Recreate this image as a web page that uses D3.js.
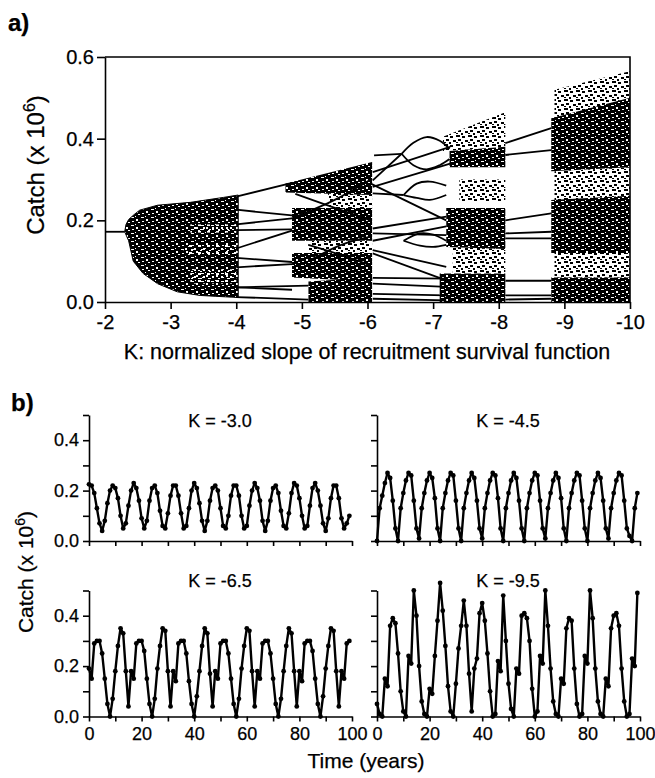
<!DOCTYPE html>
<html>
<head>
<meta charset="utf-8">
<script src="https://cdn.jsdelivr.net/npm/d3@7"></script>
<style>
body { margin: 0; background: #fff; }
text { font-family: "Liberation Sans", Arial, sans-serif; fill: #000; stroke: #000; stroke-width: 0.25px; }
.axis path, .axis line { stroke: #000; stroke-width: 1.6; }
</style>
</head>
<body>
<svg id="chart" width="655" height="778"></svg>
<script>
// ---- panel a: bifurcation diagram (K, catch in millions) ----
const kTicks = [-2, -3, -4, -5, -6, -7, -8, -9, -10];
const catchTicksA = [0, 0.2, 0.4, 0.6];

// stable equilibrium before the first bifurcation
const fixedLine = [[-2.0, 0.172], [-2.3, 0.172]];

// envelope of the first chaotic region
const onsetTop = [[-2.3, 0.172], [-2.32, 0.19], [-2.36, 0.202], [-2.45, 0.215], [-2.53, 0.225],
  [-2.8, 0.237], [-3.3, 0.244], [-3.8, 0.256], [-4.03, 0.262]];
const onsetBottom = [[-2.3, 0.172], [-2.36, 0.15], [-2.43, 0.10], [-2.58, 0.07], [-2.8, 0.045],
  [-3.1, 0.025], [-3.45, 0.016], [-4.03, 0.011]];

// lighter speckled patches inside the first chaotic region: k0, k1, low, high
const onsetGaps = [
  [-3.3, -4.0, 0.170, 0.190],
  [-3.2, -4.0, 0.115, 0.140],
  [-3.3, -4.0, 0.045, 0.080]
];

// chaotic clusters: k0, k1, low0, high0, low1, high1, dense(1)/sparse(0)
const chaosBands = [
  [-4.75, -6.07, 0.268, 0.290, 0.262, 0.343, 1],
  [-5.40, -6.07, 0.230, 0.268, 0.230, 0.262, 0],
  [-4.85, -6.07, 0.150, 0.230, 0.150, 0.230, 1],
  [-5.10, -6.07, 0.120, 0.150, 0.120, 0.150, 0],
  [-4.85, -6.07, 0.060, 0.120, 0.050, 0.120, 1],
  [-5.10, -6.07, 0.000, 0.050, 0.000, 0.060, 1],
  [-7.15, -8.10, 0.370, 0.405, 0.380, 0.465, 0],
  [-7.25, -8.10, 0.330, 0.370, 0.330, 0.380, 1],
  [-7.40, -8.10, 0.245, 0.300, 0.245, 0.300, 0],
  [-7.20, -8.10, 0.135, 0.230, 0.130, 0.230, 1],
  [-7.30, -8.10, 0.070, 0.135, 0.070, 0.130, 0],
  [-7.10, -8.10, 0.000, 0.070, 0.000, 0.070, 1],
  [-8.85, -10.0, 0.450, 0.520, 0.500, 0.565, 0],
  [-8.80, -10.0, 0.320, 0.450, 0.330, 0.500, 1],
  [-8.85, -10.0, 0.250, 0.320, 0.250, 0.330, 0],
  [-8.80, -10.0, 0.120, 0.250, 0.120, 0.260, 1],
  [-8.85, -10.0, 0.060, 0.120, 0.060, 0.120, 0],
  [-8.80, -10.0, 0.000, 0.060, 0.000, 0.060, 1]
];

// periodic branches between the chaotic windows
const branchLines = [
  // K -4 to -5
  [[-4.0, 0.258], [-4.85, 0.292]],
  [[-4.0, 0.226], [-4.85, 0.212]],
  [[-4.0, 0.190], [-4.85, 0.205]],
  [[-4.0, 0.176], [-4.85, 0.178]],
  [[-4.0, 0.131], [-4.85, 0.175]],
  [[-4.0, 0.108], [-4.85, 0.098]],
  [[-4.0, 0.085], [-4.85, 0.093]],
  [[-4.0, 0.036], [-4.85, 0.030]],
  [[-4.0, 0.036], [-5.10, 0.040]],
  [[-4.0, 0.012], [-5.10, 0.006]],
  // crossing lines inside the K -5 to -6 window
  [[-4.85, 0.205], [-5.5, 0.250], [-6.05, 0.300]],
  [[-4.9, 0.265], [-5.6, 0.225], [-6.05, 0.200]],
  [[-5.1, 0.140], [-5.6, 0.115], [-6.05, 0.090]],
  [[-5.1, 0.100], [-5.6, 0.140], [-6.05, 0.160]],
  // K -6 to -7
  [[-6.1, 0.359], [-6.52, 0.363]],
  [[-6.08, 0.298], [-6.52, 0.363]],
  [[-6.52, 0.363], [-6.7, 0.39], [-6.9, 0.404], [-7.1, 0.395], [-7.25, 0.375]],
  [[-6.52, 0.363], [-6.7, 0.335], [-6.9, 0.325], [-7.1, 0.335], [-7.25, 0.35]],
  [[-6.08, 0.318], [-7.26, 0.38]],
  [[-6.08, 0.282], [-7.26, 0.339]],
  [[-6.08, 0.266], [-6.55, 0.262]],
  [[-6.55, 0.262], [-6.75, 0.29], [-6.95, 0.295], [-7.2, 0.285]],
  [[-6.55, 0.262], [-6.75, 0.255], [-6.95, 0.25], [-7.2, 0.262]],
  [[-6.05, 0.290], [-7.2, 0.200]],
  [[-6.08, 0.180], [-7.2, 0.209]],
  [[-6.08, 0.168], [-7.2, 0.164]],
  [[-6.08, 0.150], [-7.2, 0.185]],
  [[-6.55, 0.150], [-6.8, 0.168], [-7.0, 0.165], [-7.2, 0.150]],
  [[-6.55, 0.150], [-6.8, 0.138], [-7.0, 0.135], [-7.2, 0.140]],
  [[-6.08, 0.127], [-7.2, 0.086]],
  [[-6.08, 0.119], [-7.2, 0.053]],
  [[-6.08, 0.059], [-7.2, 0.057]],
  [[-6.08, 0.045], [-7.2, 0.037]],
  [[-6.08, 0.020], [-7.2, 0.016]],
  [[-6.08, 0.008], [-7.2, 0.004]],
  // K -8 to -9
  [[-8.1, 0.389], [-8.8, 0.426]],
  [[-8.1, 0.360], [-8.8, 0.372]],
  [[-8.1, 0.200], [-8.8, 0.217]],
  [[-8.1, 0.168], [-8.8, 0.172]],
  [[-8.1, 0.156], [-8.8, 0.156]],
  [[-8.1, 0.052], [-8.8, 0.052]],
  [[-8.1, 0.016], [-8.8, 0.016]],
  [[-8.1, 0.006], [-8.8, 0.008]]
];

// ---- panel b: catch time series (x 10^6), one value per year 0..99 ----
const yearTicks = [0, 10, 20, 30, 40, 50, 60, 70, 80, 90, 100];
const catchTicksB = [0, 0.1, 0.2, 0.3, 0.4, 0.5];

const catchK30 = [
  .225, .22, .19, .13, .07, .04, .08, .15, .20, .22,
  .21, .17, .10, .05, .07, .14, .20, .23, .21, .16,
  .09, .05, .08, .16, .21, .22, .19, .12, .06, .05,
  .11, .18, .22, .22, .18, .11, .05, .06, .13, .20,
  .23, .21, .15, .08, .04, .08, .16, .21, .22, .20,
  .13, .06, .05, .10, .18, .22, .22, .18, .10, .05,
  .06, .14, .20, .23, .21, .16, .08, .04, .08, .16,
  .21, .22, .19, .12, .06, .05, .11, .19, .23, .22,
  .17, .10, .05, .06, .14, .21, .23, .20, .14, .07,
  .04, .09, .17, .22, .22, .17, .09, .05, .07, .10
];

const catchK45 = [
  .00, .13, .18, .23, .27, .25, .16, .05, .00,
  .13, .19, .24, .27, .26, .16, .05, .01,
  .13, .19, .24, .27, .25, .17, .05, .00,
  .13, .19, .24, .27, .26, .16, .05, .00,
  .13, .19, .24, .27, .25, .16, .05, .01,
  .13, .19, .24, .27, .26, .17, .05, .00,
  .13, .19, .24, .27, .25, .16, .05, .00,
  .13, .19, .24, .27, .26, .16, .05, .01,
  .13, .19, .24, .27, .25, .17, .05, .00,
  .13, .19, .24, .27, .26, .16, .05, .00,
  .13, .19, .24, .27, .25, .16, .05, .01,
  .13, .19, .24, .27, .26, .16, .05, .02, .00, .13, .19
];

const catchK65 = [
  .19, .15, .29, .30, .30, .25, .15, .05, .00, .07, .18, .28, .35, .33, .18, .04,
  .18, .15, .29, .30, .30, .26, .15, .05, .00, .07, .19, .28, .35, .34, .18, .04,
  .18, .14, .29, .30, .30, .25, .14, .05, .00, .08, .18, .28, .35, .33, .17, .04,
  .18, .15, .29, .30, .30, .25, .15, .05, .00, .07, .19, .28, .35, .34, .18, .04,
  .18, .15, .29, .30, .30, .25, .15, .05, .00, .07, .18, .28, .35, .33, .18, .04,
  .18, .14, .29, .30, .30, .26, .15, .05, .00, .08, .19, .28, .35, .34, .18, .04,
  .18, .15, .29, .30
];

const catchK95 = [
  .05, .01, .00, .15, .12, .36, .39, .37, .25, .10,
  .02, .00, .24, .21, .50, .40, .20, .06, .01, .00,
  .11, .09, .24, .38, .53, .42, .28, .12, .02, .00,
  .13, .27, .36, .46, .36, .17, .02, .19, .23, .41,
  .45, .38, .25, .10, .00, .01, .22, .18, .48, .30,
  .13, .03, .00, .19, .17, .40, .41, .39, .30, .11,
  .00, .02, .24, .21, .50, .36, .19, .06, .01, .00,
  .15, .13, .35, .39, .38, .19, .05, .00, .01, .24,
  .21, .50, .39, .19, .06, .01, .00, .15, .12, .35,
  .40, .41, .36, .19, .06, .00, .01, .23, .20, .49
];

const svg = d3.select("#chart");
const defs = svg.append("defs");

// speckle textures for the chaotic clusters
const dense = defs.append("pattern").attr("id", "dense")
  .attr("patternUnits", "userSpaceOnUse").attr("width", 10).attr("height", 8);
dense.append("rect").attr("width", 10).attr("height", 8).attr("fill", "#000");
[[1, 1, 3, 1], [6, 3, 2, 2], [2, 5, 2, 1], [8, 6, 2, 1], [5, 0, 1, 1]].forEach(r => dense.append("rect")
  .attr("x", r[0]).attr("y", r[1]).attr("width", r[2]).attr("height", r[3]).attr("fill", "#fff"));

const sparse = defs.append("pattern").attr("id", "sparse")
  .attr("patternUnits", "userSpaceOnUse").attr("width", 12).attr("height", 9);
[[0, 0, 4, 2], [6, 1, 3, 2], [2, 4, 3, 2], [9, 5, 3, 2], [5, 7, 2, 2], [0, 7, 2, 1]].forEach(r => sparse.append("rect")
  .attr("x", r[0]).attr("y", r[1]).attr("width", r[2]).attr("height", r[3]).attr("fill", "#000"));

// white flecks laid over the darker onset region
const holes = defs.append("pattern").attr("id", "holes")
  .attr("patternUnits", "userSpaceOnUse").attr("width", 9).attr("height", 7);
[[0, 0, 3, 2], [5, 3, 2, 2], [2, 5, 2, 1]].forEach(r => holes.append("rect")
  .attr("x", r[0]).attr("y", r[1]).attr("width", r[2]).attr("height", r[3]).attr("fill", "#fff"));

// ---------- panel a ----------
const xA = d3.scaleLinear().domain([-2, -10]).range([105, 630]);
const yA = d3.scaleLinear().domain([0, 0.6]).range([302, 57]);
const gA = svg.append("g");

const lineA = d3.line().x(d => xA(d[0])).y(d => yA(d[1]));
const curveA = d3.line().x(d => xA(d[0])).y(d => yA(d[1])).curve(d3.curveCatmullRom);

gA.append("path").attr("d", lineA(onsetTop.concat(onsetBottom.slice().reverse())))
  .attr("fill", "url(#dense)").attr("stroke", "#000").attr("stroke-width", 1);

gA.selectAll("rect.gap").data(onsetGaps).join("rect").attr("class", "gap")
  .attr("x", g => xA(g[0])).attr("width", g => xA(g[1]) - xA(g[0]))
  .attr("y", g => yA(g[3])).attr("height", g => yA(g[2]) - yA(g[3]))
  .attr("fill", "url(#holes)");

gA.selectAll("path.band").data(chaosBands).join("path").attr("class", "band")
  .attr("d", b => lineA([[b[0], b[2]], [b[1], b[4]], [b[1], b[5]], [b[0], b[3]]]))
  .attr("fill", b => b[6] ? "url(#dense)" : "url(#sparse)");

gA.selectAll("path.branch").data(branchLines).join("path").attr("class", "branch")
  .attr("d", d => curveA(d)).attr("fill", "none").attr("stroke", "#000").attr("stroke-width", 1.8);

gA.append("path").attr("d", lineA(fixedLine)).attr("stroke", "#000").attr("stroke-width", 1.8);

// frame
gA.append("path")
  .attr("d", `M${xA(-2)},${yA(0.6)}H${xA(-10)}V${yA(0)}`)
  .attr("fill", "none").attr("stroke", "#000").attr("stroke-width", 1.6);

gA.append("g").attr("class", "axis").attr("transform", `translate(0,${yA(0)})`)
  .call(d3.axisBottom(xA).tickValues(kTicks).tickFormat(d => String(d))
    .tickSize(7).tickSizeOuter(0).tickPadding(6))
  .selectAll("text").style("font-size", "20px");

gA.append("g").attr("class", "axis").attr("transform", `translate(${xA(-2)},0)`)
  .call(d3.axisLeft(yA).tickValues(catchTicksA).tickFormat(d3.format(".1f"))
    .tickSize(8).tickSizeOuter(0).tickPadding(3))
  .selectAll("text").style("font-size", "20px");

svg.append("text").attr("x", 367).attr("y", 359).attr("text-anchor", "middle")
  .style("font-size", "21.5px").text("K: normalized slope of recruitment survival function");

const yLabA = svg.append("text").attr("transform", "translate(44,165) rotate(-90)")
  .attr("text-anchor", "middle").style("font-size", "24px");
yLabA.append("tspan").text("Catch (x 10");
yLabA.append("tspan").attr("dy", -9).style("font-size", "16px").text("6");
yLabA.append("tspan").attr("dy", 9).text(")");

svg.append("text").attr("x", 8).attr("y", 31).style("font-size", "24px")
  .style("font-weight", "bold").text("a)");

// ---------- panel b ----------
svg.append("text").attr("x", 11).attr("y", 411).style("font-size", "24px")
  .style("font-weight", "bold").text("b)");

const panels = [
  { values: catchK30, title: "K = -3.0", x0: 89, y0: 541, left: true, bottom: false },
  { values: catchK45, title: "K = -4.5", x0: 377, y0: 541, left: false, bottom: false },
  { values: catchK65, title: "K = -6.5", x0: 89, y0: 716.5, left: true, bottom: true },
  { values: catchK95, title: "K = -9.5", x0: 377, y0: 716.5, left: false, bottom: true }
];

panels.forEach(p => {
  const x = d3.scaleLinear().domain([0, 100]).range([p.x0, p.x0 + 263]);
  const y = d3.scaleLinear().domain([0, 0.5]).range([p.y0, p.y0 - 126]);
  const g = svg.append("g");

  g.append("g").attr("class", "axis").attr("transform", `translate(0,${p.y0})`)
    .call(d3.axisBottom(x).tickValues(yearTicks)
      .tickFormat(d => (p.bottom && d % 20 === 0) ? d : "")
      .tickSize(5).tickSizeOuter(0).tickPadding(6))
    .selectAll("text").style("font-size", "18px");

  g.append("g").attr("class", "axis").attr("transform", `translate(${p.x0},0)`)
    .call(d3.axisLeft(y).tickValues(catchTicksB)
      .tickFormat(d => (p.left && Math.round(d * 10) % 2 === 0) ? d3.format(".1f")(d) : "")
      .tickSize(6).tickSizeOuter(0).tickPadding(4))
    .selectAll("text").style("font-size", "18px");

  const line = d3.line().x((d, i) => x(i)).y(d => y(d));
  g.append("path").attr("d", line(p.values)).attr("fill", "none")
    .attr("stroke", "#000").attr("stroke-width", 2.4).attr("stroke-linejoin", "round");
  g.selectAll("circle").data(p.values).join("circle")
    .attr("cx", (d, i) => x(i)).attr("cy", d => y(d)).attr("r", 2.4).attr("fill", "#000");

  g.append("text").attr("x", p.x0 + 131).attr("y", p.y0 - (p.bottom ? 130 : 114))
    .attr("text-anchor", "middle").style("font-size", "18px").text(p.title);
});

const yLabB = svg.append("text").attr("transform", "translate(33,572) rotate(-90)")
  .attr("text-anchor", "middle").style("font-size", "21px");
yLabB.append("tspan").text("Catch (x 10");
yLabB.append("tspan").attr("dy", -8).style("font-size", "14px").text("6");
yLabB.append("tspan").attr("dy", 8).text(")");

svg.append("text").attr("x", 366).attr("y", 768).attr("text-anchor", "middle")
  .style("font-size", "21px").text("Time (years)");
</script>
</body>
</html>
